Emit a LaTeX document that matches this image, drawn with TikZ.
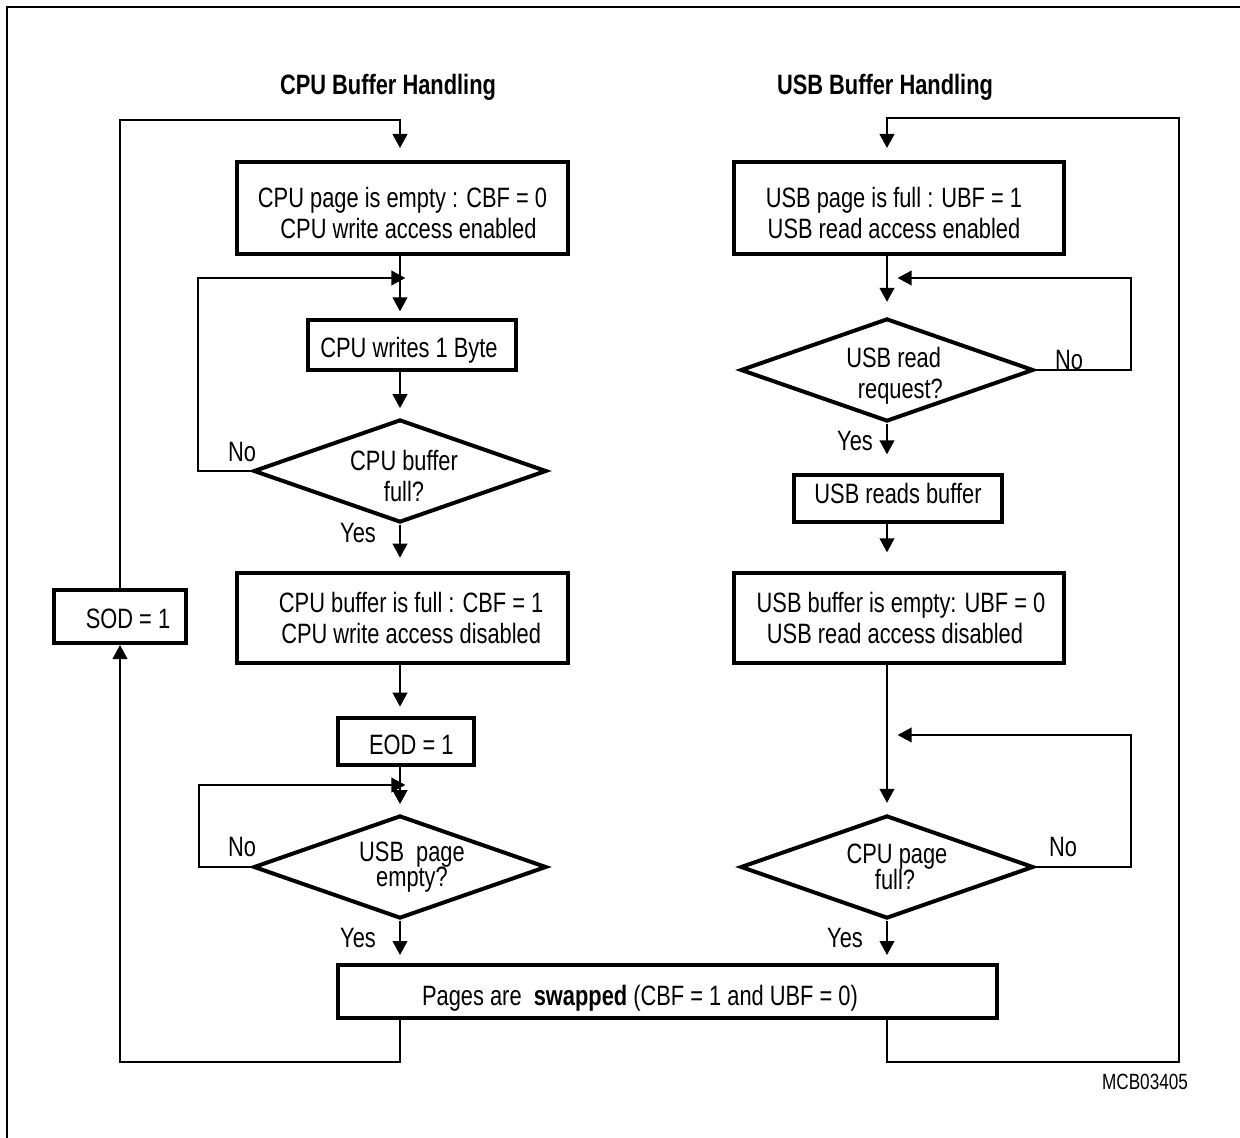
\documentclass[tikz,border=0pt]{standalone}
\usepackage{fontspec}
\setmainfont{Liberation Sans}[FakeStretch=0.78]
\usetikzlibrary{shapes.geometric,arrows.meta,calc}
\newcommand\upstrut[1]{\rule{0pt}{#1}}
\newcommand\dnstrut[1]{\rule[-#1]{0pt}{0pt}}
\begin{document}
\begin{tikzpicture}[x=0.75pt,y=-0.75pt,
  every node/.style={font=\fontsize{21}{23.5}\selectfont},
  box/.style={draw, line width=3pt, inner sep=0pt, align=center},
  dec/.style={draw, diamond, line width=3pt, inner sep=0pt, align=center,
    minimum width=219.75pt, minimum height=77.25pt, aspect=2.85},
  conn/.style={line width=1.5pt},
  arr/.style={conn, -{Triangle[length=10.5pt,width=11pt]}},
  lbl/.style={inner sep=0pt},
  ttl/.style={inner sep=0pt, font=\bfseries\fontsize{21}{23.5}\selectfont}]
\useasboundingbox (0,0) rectangle (1240,1138);
% frame
\draw[line width=1.5pt] (1240,7) -- (7,7) -- (7,1138);
% titles
\node[ttl] (t1) at (388,87) {CPU Buffer Handling};
\node[ttl] (t2) at (885,87) {USB Buffer Handling};
% left column
\node[box, minimum width=248.25pt, minimum height=69pt] (box1) at (402.5,208)
  {\upstrut{23pt}CPU page is empty : CBF = 0\\\hspace*{9pt}CPU write access enabled};
\node[box, minimum width=156pt, minimum height=37.5pt] (box2) at (412,345)
  {\upstrut{23pt}\hspace*{-4.5pt}CPU writes 1 Byte};
\node[dec] (d1) at (400,471) {\upstrut{23pt}\hspace*{6pt}CPU buffer\\\hspace*{6pt}full?};
\node[box, minimum width=248.25pt, minimum height=67.5pt] (box3) at (402.5,618)
  {\hspace*{13pt}CPU buffer is full : CBF = 1\\\hspace*{13pt}CPU write access disabled};
\node[box, minimum width=102pt, minimum height=35.25pt] (box4) at (406,741.5)
  {\upstrut{20pt}\hspace*{8pt}EOD = 1};
\node[dec] (d2) at (400,867) {\hspace*{18pt}USB\ \ page\\[-4.5pt]\hspace*{18pt}empty?};
\node[box, minimum width=494.25pt, minimum height=39.75pt] (box5) at (667.5,991.5) {};
\node[lbl] (swaptxt) at (640,998) {Pages are\ \ \textbf{swapped} (CBF = 1 and UBF = 0)};
\node[box, minimum width=99pt, minimum height=39.75pt] (sod) at (120,616.5)
  {\upstrut{18pt}\hspace*{12pt}SOD = 1};
% right column
\node[box, minimum width=247.5pt, minimum height=69pt] (box6) at (899,208)
  {\upstrut{23pt}\hspace*{-7.5pt}USB page is full : UBF = 1\\\hspace*{-7.5pt}USB read access enabled};
\node[dec] (d3) at (887,370)
  {\upstrut{24pt}\makebox[60pt]{\hspace*{10pt}USB read}\\\makebox[60pt]{\hspace*{20pt}request?}};
\node[box, minimum width=156pt, minimum height=35.25pt] (box7) at (898,498.5)
  {USB reads buffer\dnstrut{7.5pt}};
\node[box, minimum width=247.5pt, minimum height=67.5pt] (box8) at (899,618)
  {\hspace*{3pt}USB buffer is empty: UBF = 0\\\hspace*{-6pt}USB read access disabled};
\node[dec] (d4) at (887,867) {\hspace*{15pt}CPU page\\[-4.5pt]\hspace*{12pt}full?};
% junction coordinates
\coordinate (j1) at (400,278);
\coordinate (j2) at (400,785);
\coordinate (j3) at (887,278);
\coordinate (j4) at (887,735);
\coordinate (l1) at (120,1062);
\coordinate (l2) at (400,120);
\coordinate (r1) at (1179,1062);
\coordinate (r2) at (1179,118);
% left connectors
\draw[arr, shorten >=5pt] (box1.south -| d1) -- (box2.north -| d1);
\draw[arr, shorten >=7pt] (box2.south -| d1) -- (d1.north);
\draw[arr] (d1.west) -- ++(-53,0) |- ([xshift=4pt]j1);
\draw[arr, shorten >=10pt] (d1.south) -- (box3.north -| d1);
\draw[arr, shorten >=7pt] (box3.south -| d1) -- (box4.north -| d1);
\draw[arr, shorten >=7pt] (box4.south -| d1) -- (d2.north);
\draw[arr] (d2.west) -- ++(-53,0) |- ([xshift=4pt]j2);
\draw[arr, shorten >=6pt] (d2.south) -- (box5.north -| d2);
\draw[arr] (box5.south -| d2) |- (l1) -- (sod.south);
\draw[arr, shorten >=9pt] (sod.north) |- (l2) -- (box1.north -| d1);
% right connectors
\draw[arr, shorten >=9pt] (box5.south -| d4) |- (r1) -- (r2) -| (box6.north -| d4);
\draw[arr, shorten >=11pt] (box6.south -| d3) -- (d3.north);
\draw[arr] (d3.east) -- ++(95,0) |- ([xshift=8pt]j3);
\draw[arr, shorten >=14pt] (d3.south) -- (box7.north -| d3);
\draw[arr, shorten >=14pt] (box7.south -| d3) -- (box8.north -| d3);
\draw[arr, shorten >=8pt] (box8.south -| d4) -- (d4.north);
\draw[arr] (d4.east) -- ++(95,0) |- ([xshift=8pt]j4);
\draw[arr, shorten >=6pt] (d4.south) -- (box5.north -| d4);
% labels
\node[lbl] (n1) at (242,452) {No};
\node[lbl] (y1) at (358,533) {Yes};
\node[lbl] (n2) at (242,847) {No};
\node[lbl] (y2) at (358,938) {Yes};
\node[lbl] (n3) at (1069,360) {No};
\node[lbl] (y3) at (855,441) {Yes};
\node[lbl] (n4) at (1063,847) {No};
\node[lbl] (y4) at (845,938) {Yes};
\node[lbl, font=\fontsize{16.5}{18}\selectfont] (code) at (1145,1082) {MCB03405};
\end{tikzpicture}
\end{document}
